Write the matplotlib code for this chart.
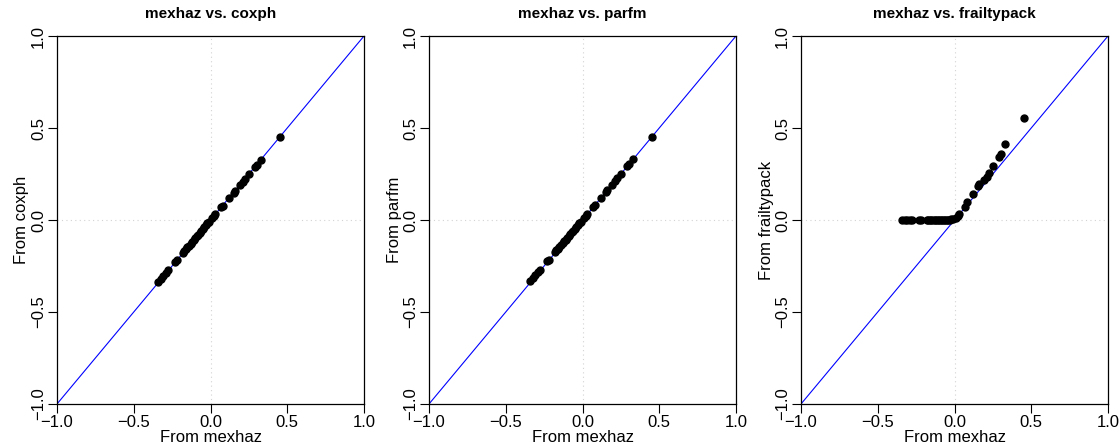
import matplotlib
matplotlib.use("Agg")
import matplotlib.pyplot as plt

plt.rcParams['font.family'] = ['Liberation Sans', 'DejaVu Sans']

# estimates from mexhaz (shared x values)
mexhaz = [-0.34, -0.32, -0.307, -0.29, -0.275, -0.23, -0.22, -0.18, -0.17, -0.16,
          -0.15, -0.14, -0.13, -0.12, -0.11, -0.10, -0.09, -0.08, -0.07, -0.06,
          -0.05, -0.04, -0.03, -0.02, -0.01, 0.01, 0.02, 0.03, 0.07, 0.08,
          0.12, 0.15, 0.16, 0.19, 0.21, 0.225, 0.25, 0.29, 0.30, 0.33, 0.45]

coxph = [-0.335, -0.318, -0.305, -0.288, -0.272, -0.228, -0.219, -0.178, -0.169, -0.158,
         -0.148, -0.139, -0.129, -0.119, -0.109, -0.099, -0.089, -0.079, -0.069, -0.059,
         -0.049, -0.039, -0.029, -0.019, -0.009, 0.01, 0.02, 0.03, 0.068, 0.078,
         0.118, 0.148, 0.158, 0.188, 0.208, 0.223, 0.248, 0.288, 0.298, 0.328, 0.45]

parfm = [-0.33, -0.315, -0.3, -0.285, -0.27, -0.225, -0.215, -0.175, -0.165, -0.155,
         -0.145, -0.136, -0.126, -0.116, -0.106, -0.097, -0.087, -0.077, -0.067, -0.058,
         -0.048, -0.038, -0.028, -0.018, -0.009, 0.012, 0.022, 0.032, 0.072, 0.082,
         0.122, 0.152, 0.162, 0.192, 0.212, 0.227, 0.252, 0.292, 0.302, 0.332, 0.452]

frailtypack = [0.0, 0.0, 0.0, 0.0, 0.0, 0.0, 0.0, 0.0, 0.0, 0.0,
               0.0, 0.0, 0.0, 0.0, 0.0, 0.0, 0.0, 0.0, 0.0, 0.0,
               0.0, 0.0, 0.002, 0.004, 0.006, 0.01, 0.02, 0.035, 0.07, 0.10,
               0.14, 0.185, 0.195, 0.217, 0.235, 0.255, 0.293, 0.345, 0.357, 0.411, 0.555]

others = [("coxph", coxph), ("parfm", parfm), ("frailtypack", frailtypack)]
ticks = [-1.0, -0.5, 0.0, 0.5, 1.0]
tick_labels = ["\u22121.0", "\u22120.5", "0.0", "0.5", "1.0"]

fig = plt.figure(figsize=(11.2, 4.48), dpi=100)
lefts = [57, 429, 801]
for left, (name, vals) in zip(lefts, others):
    ax = fig.add_axes([left / 1120, 1 - 404 / 448, 307 / 1120, 368 / 448])
    ax.set_xlim(-1, 1)
    ax.set_ylim(-1, 1)
    ax.axvline(0, color='#d3d3d3', linestyle=(0, (1, 3)), linewidth=0.8, zorder=0)
    ax.axhline(0, color='#d3d3d3', linestyle=(0, (1, 3)), linewidth=0.8, zorder=0)
    ax.plot([-1, 1], [-1, 1], color='blue', linewidth=0.8, zorder=1)
    ax.plot(mexhaz, vals, 'o', color='black', markersize=5.0, zorder=2)
    ax.set_xticks(ticks)
    ax.set_xticklabels(tick_labels)
    ax.set_yticks(ticks)
    ax.set_yticklabels(tick_labels, rotation=90, va='center')
    ax.tick_params(direction='out', length=6.5, width=0.8, labelsize=12, pad=1.5)
    for s in ax.spines.values():
        s.set_linewidth(0.9)
    ax.set_xlabel("From mexhaz", fontsize=12, labelpad=0)
    ax.set_ylabel("From " + name, fontsize=12, labelpad=1)
    ax.set_title("mexhaz vs. " + name, fontsize=11, fontweight='bold', pad=13)

fig.savefig("out.png", dpi=100)
